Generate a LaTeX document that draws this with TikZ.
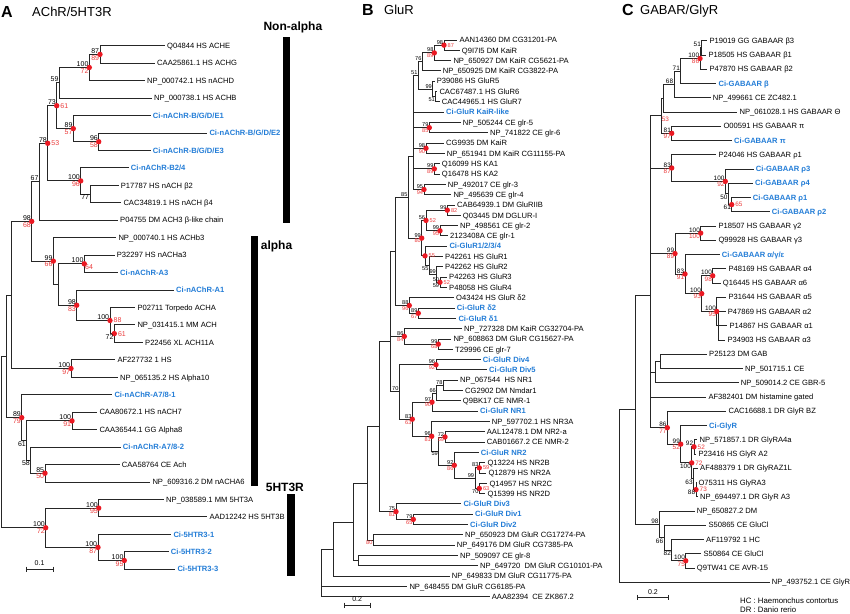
\documentclass[tikz,border=0pt]{standalone}
\usepackage{fontspec}
\setmainfont{Liberation Sans}
\definecolor{ciblue}{RGB}{35,125,215}
\definecolor{supred}{RGB}{235,60,60}
\definecolor{dotred}{RGB}{235,25,35}
\newcommand\lfsz{\fontsize{7.6}{8}\selectfont}
\newcommand\nsz{\fontsize{7}{7}\selectfont}
\tikzset{
 br/.style={draw=black!85, line width=0.85pt},
 lv/.style={anchor=west, inner sep=0pt, font=\lfsz, text height=5.5pt, text depth=0pt},
 cv/.style={lv, font=\lfsz\bfseries, text=ciblue},
 ul/.style={anchor=south east, inner sep=0.7pt, font=\nsz},
 ll/.style={anchor=north east, inner sep=0.7pt, font=\nsz},
 rll/.style={ll, text=supred},
 rr/.style={anchor=west, inner sep=0pt, xshift=3.5pt, font=\nsz, text=supred},
 rlr/.style={anchor=north west, inner sep=0.7pt, font=\nsz, text=supred},
 grp/.style={font=\fontsize{12}{12}\selectfont\bfseries, anchor=west, inner sep=0pt},
 ttl/.style={font=\fontsize{16}{16}\selectfont\bfseries, anchor=west, inner sep=0pt},
 ttt/.style={font=\fontsize{13}{13}\selectfont, anchor=west, inner sep=0pt},
 sclab/.style={font=\nsz, anchor=south, inner sep=1pt},
}
\newcommand\TLeaf[4]{\coordinate (#1) at ({#2-2},#3); \node[lv] (#1t) at (#2,#3) {#4};}
\newcommand\TCi[4]{\coordinate (#1) at ({#2-2},#3); \node[cv] (#1t) at (#2,#3) {#4};}
\newcommand\Kids[2]{\draw[br] foreach \c in {#2} {(#1) |- (\c)};}
\newcommand\RDot[1]{\fill[dotred] (#1) circle (2.7pt);}
\newcommand\NUp[2]{\node[ul] (#1u) at (#1) {#2};}
\newcommand\NLo[2]{\node[ll] (#1l) at (#1) {#2};}
\newcommand\RLo[2]{\node[rll] (#1r) at (#1) {#2};}
\newcommand\RRi[2]{\node[rr] (#1r) at (#1) {#2};}
\newcommand\RBr[2]{\node[rlr] (#1r) at (#1) {#2};}
\newcommand\ND[3]{\RDot{#1}\NUp{#1}{#2}\RLo{#1}{#3}}
\begin{document}
\begin{tikzpicture}[x=1pt,y=-1pt]
\fill[white] (0,0) rectangle (850,613);
\useasboundingbox (0,0) rectangle (850,613);

% ================= PANEL A =================
\renewcommand\nsz{\fontsize{7}{7}\selectfont}
\node[ttl] (tA) at (1,12) {A};
\node[ttt] (tA2) at (32,12) {AChR/5HT3R};

\TLeaf{aL1}{167}{45.7}{Q04844 HS ACHE}
\TLeaf{aL2}{157}{63.15}{CAA25861.1 HS ACHG}
\TLeaf{aL3}{147}{80.6}{NP\_000742.1 HS nACHD}
\TLeaf{aL4}{154}{98.05}{NP\_000738.1 HS ACHB}
\TCi{aL5}{152.7}{115.5}{Ci-nAChR-B/G/D/E1}
\TCi{aL6}{209.3}{132.95}{Ci-nAChR-B/G/D/E2}
\TCi{aL7}{152.7}{150.4}{Ci-nAChR-B/G/D/E3}
\TCi{aL8}{130.7}{167.85}{Ci-nAChR-B2/4}
\TLeaf{aL9}{120.7}{185.3}{P17787 HS nACH β2}
\TLeaf{aL10}{123.3}{202.75}{CAC34819.1 HS nACH β4}
\TLeaf{aL11}{120}{220.2}{P04755 DM ACH3 β-like chain}
\TLeaf{aL12}{118.3}{237.65}{NP\_000740.1 HS ACHb3}
\TLeaf{aL13}{116.7}{255.1}{P32297 HS nACHa3}
\TCi{aL14}{120}{272.55}{Ci-nAChR-A3}
\TCi{aL15}{176}{290}{Ci-nAChR-A1}
\TLeaf{aL16}{137.3}{307.45}{P02711 Torpedo ACHA}
\TLeaf{aL17}{137.3}{324.9}{NP\_031415.1 MM ACH}
\TLeaf{aL18}{145}{342.35}{P22456 XL ACH11A}
\TLeaf{aL19}{117.3}{359.8}{AF227732 1 HS}
\TLeaf{aL20}{120}{377.25}{NP\_065135.2 HS Alpha10}
\TCi{aL21}{114.3}{394.7}{Ci-nAChR-A7/8-1}
\TLeaf{aL22}{99.3}{412.15}{CAA80672.1 HS nACH7}
\TLeaf{aL23}{99.3}{429.6}{CAA36544.1 GG Alpha8}
\TCi{aL24}{122.7}{447.05}{Ci-nAChR-A7/8-2}
\TLeaf{aL25}{121.7}{464.5}{CAA58764 CE Ach}
\TLeaf{aL26}{152.3}{481.95}{NP\_609316.2 DM nACHA6}
\TLeaf{aL27}{166}{499.4}{NP\_038589.1 MM 5HT3A}
\TLeaf{aL28}{209.3}{516.85}{AAD12242 HS 5HT3B}
\TCi{aL29}{173.3}{534.3}{Ci-5HTR3-1}
\TCi{aL30}{170.7}{551.75}{Ci-5HTR3-2}
\TCi{aL31}{177.3}{569.2}{Ci-5HTR3-3}

\coordinate (a1) at (100,54.4);
\coordinate (a2) at (89.3,67.5);
\coordinate (a3) at (59.3,82.8);
\coordinate (a5) at (98.7,141.7);
\coordinate (a4) at (73.3,128.6);
\coordinate (a6) at (56.7,105.7);
\coordinate (a8) at (90,194);
\coordinate (a7) at (80.7,180.9);
\coordinate (a9) at (47.7,143.3);
\coordinate (a10) at (39.3,181.75);
\coordinate (a12) at (84.3,263.8);
\coordinate (a15) at (114.3,333.6);
\coordinate (a14) at (110,320.5);
\coordinate (a13) at (76.7,305.25);
\coordinate (aX) at (58.3,284.5);
\coordinate (a11) at (53.3,261.1);
\coordinate (a16) at (31.7,221.4);
\coordinate (a17) at (71,368.5);
\coordinate (aY) at (11.7,295);
\coordinate (a19) at (72,420.9);
\coordinate (a22) at (45,473.2);
\coordinate (a21) at (30.7,460.1);
\coordinate (a20) at (26.7,440.5);
\coordinate (a18) at (21.7,417.6);
\coordinate (aZ) at (6.7,356.3);
\coordinate (a24) at (98.7,508.1);
\coordinate (a26) at (124.3,560.5);
\coordinate (a25) at (98,547.4);
\coordinate (a23) at (45.7,527.75);
\coordinate (aR) at (1.7,442);

\Kids{a1}{aL1,aL2}
\Kids{a2}{a1,aL3}
\Kids{a3}{a2,aL4}
\Kids{a5}{aL6,aL7}
\Kids{a4}{aL5,a5}
\Kids{a6}{a3,a4}
\Kids{a8}{aL9,aL10}
\Kids{a7}{aL8,a8}
\Kids{a9}{a6,a7}
\Kids{a10}{a9,aL11}
\Kids{a12}{aL13,aL14}
\Kids{a15}{aL17,aL18}
\Kids{a14}{aL16,a15}
\Kids{a13}{aL15,a14}
\Kids{aX}{a12,a13}
\Kids{a11}{aL12,aX}
\Kids{a16}{a10,a11}
\Kids{a17}{aL19,aL20}
\Kids{aY}{a16,a17}
\Kids{a19}{aL22,aL23}
\Kids{a22}{aL25,aL26}
\Kids{a21}{aL24,a22}
\Kids{a20}{a19,a21}
\Kids{a18}{aL21,a20}
\Kids{aZ}{aY,a18}
\Kids{a24}{aL27,aL28}
\Kids{a26}{aL30,aL31}
\Kids{a25}{aL29,a26}
\Kids{a23}{a24,a25}
\Kids{aR}{aZ,a23}

\ND{a1}{87}{89}
\ND{a2}{100}{72}
\NUp{a3}{59}
\ND{a5}{96}{58}
\ND{a4}{89}{57}
\RDot{a6}\NUp{a6}{73}\RRi{a6}{61}
\NLo{a8}{77}
\ND{a7}{100}{96}
\RDot{a9}\NUp{a9}{78}\RRi{a9}{53}
\NUp{a10}{67}
\RDot{a12}\NUp{a12}{100}\RBr{a12}{64}
\RDot{a15}\RRi{a15}{61}\NLo{a15}{72}
\RDot{a14}\NUp{a14}{100}\RRi{a14}{88}
\ND{a13}{98}{83}
\ND{a11}{99}{66}
\ND{a16}{98}{68}
\ND{a17}{100}{97}
\ND{a19}{100}{91}
\ND{a22}{85}{50}
\NLo{a21}{58}
\NLo{a20}{61}
\ND{a18}{89}{79}
\ND{a24}{100}{95}
\ND{a26}{100}{95}
\ND{a25}{100}{87}
\ND{a23}{100}{72}

\fill (283,37) rectangle (290,223);
\fill (250.7,236) rectangle (258.3,485.7);
\fill (286.7,494.3) rectangle (295,575.7);
\node[grp] (gNA) at (263.3,27.3) {Non-alpha};
\node[grp] (gAl) at (260.7,246.7) {alpha};
\node[grp] (g5H) at (265.7,487) {5HT3R};

\coordinate (sA1) at (26,569.2);
\coordinate (sA2) at (53.3,569.2);
\draw[br] (sA1) -- (sA2);
\draw[br] (sA1) ++(0,-2.5) -- ++(0,5);
\draw[br] (sA2) ++(0,-2.5) -- ++(0,5);
\node[sclab] (sAl) at (39.6,567) {0.1};

% ================= PANEL B =================
\renewcommand\nsz{\fontsize{5.6}{5.6}\selectfont}
\node[ttl] (tB) at (362,10) {B};
\node[ttt] (tB2) at (384,10) {GluR};

\TLeaf{b1}{459.3}{40.0}{AAN14360 DM CG31201-PA}
\TLeaf{b2}{461.7}{50.3}{Q9I7I5 DM KaiR}
\TLeaf{b3}{453.3}{60.6}{NP\_650927 DM KaiR CG5621-PA}
\TLeaf{b4}{442.7}{70.9}{NP\_650925 DM KaiR CG3822-PA}
\TLeaf{b5}{436.7}{81.2}{P39086 HS GluR5}
\TLeaf{b6}{439.3}{91.6}{CAC67487.1 HS GluR6}
\TLeaf{b7}{441.7}{101.9}{CAC44965.1 HS GluR7}
\TCi{b8}{446}{112.2}{Ci-GluR KaiR-like}
\TLeaf{b9}{462.7}{122.5}{NP\_505244 CE glr-5}
\TLeaf{b10}{490}{132.8}{NP\_741822 CE glr-6}
\TLeaf{b11}{446}{143.1}{CG9935 DM KaiR}
\TLeaf{b12}{446.7}{153.4}{NP\_651941 DM KaiR CG11155-PA}
\TLeaf{b13}{441.7}{163.7}{Q16099 HS KA1}
\TLeaf{b14}{441.7}{174.0}{Q16478 HS KA2}
\TLeaf{b15}{447.7}{184.3}{NP\_492017 CE glr-3}
\TLeaf{b16}{453.3}{194.7}{NP\_495639 CE glr-4}
\TLeaf{b17}{457}{205.0}{CAB64939.1 DM GluRIIB}
\TLeaf{b18}{462.7}{215.3}{Q03445 DM DGLUR-I}
\TLeaf{b19}{460}{225.6}{NP\_498561 CE glr-2}
\TLeaf{b20}{450}{235.9}{2123408A CE glr-1}
\TCi{b21}{449.3}{246.2}{Ci-GluR1/2/3/4}
\TLeaf{b22}{445}{256.5}{P42261 HS GluR1}
\TLeaf{b23}{445}{266.8}{P42262 HS GluR2}
\TLeaf{b24}{449}{277.1}{P42263 HS GluR3}
\TLeaf{b25}{449}{287.4}{P48058 HS GluR4}
\TLeaf{b26}{456}{297.8}{O43424 HS GluR δ2}
\TCi{b27}{456.7}{308.1}{Ci-GluR δ2}
\TCi{b28}{458.3}{318.4}{Ci-GluR δ1}
\TLeaf{b29}{464}{328.7}{NP\_727328 DM KaiR CG32704-PA}
\TLeaf{b30}{453.3}{339.0}{NP\_608863 DM GluR CG15627-PA}
\TLeaf{b31}{455}{349.3}{T29996 CE glr-7}
\TCi{b32}{482.7}{359.6}{Ci-GluR Div4}
\TCi{b33}{489}{369.9}{Ci-GluR Div5}
\TLeaf{b34}{460}{380.2}{NP\_067544\ \ HS NR1}
\TLeaf{b35}{465}{390.5}{CG2902 DM Nmdar1}
\TLeaf{b36}{462.7}{400.8}{Q9BK17 CE NMR-1}
\TCi{b37}{480}{411.2}{Ci-GluR NR1}
\TLeaf{b38}{491.7}{421.5}{NP\_597702.1 HS NR3A}
\TLeaf{b39}{486.7}{431.8}{AAL12478.1 DM NR2-a}
\TLeaf{b40}{486.7}{442.1}{CAB01667.2 CE NMR-2}
\TCi{b41}{480.7}{452.4}{Ci-GluR NR2}
\TLeaf{b42}{487.3}{462.7}{Q13224 HS NR2B}
\TLeaf{b43}{488.3}{473.0}{Q12879 HS NR2A}
\TLeaf{b44}{489.3}{483.3}{Q14957 HS NR2C}
\TLeaf{b45}{487.3}{493.6}{Q15399 HS NR2D}
\TCi{b46}{463.3}{503.9}{Ci-GluR Div3}
\TCi{b47}{475}{514.2}{Ci-GluR Div1}
\TCi{b48}{470}{524.6}{Ci-GluR Div2}
\TLeaf{b49}{465}{534.9}{NP\_650923 DM GluR CG17274-PA}
\TLeaf{b50}{456.7}{545.2}{NP\_649176 DM GluR CG7385-PA}
\TLeaf{b51}{460}{555.5}{NP\_509097 CE glr-8}
\TLeaf{b52}{480}{565.8}{NP\_649720\ \ DM GluR CG10101-PA}
\TLeaf{b53}{451.7}{576.1}{NP\_649833 DM GluR CG11775-PA}
\TLeaf{b54}{409.3}{586.4}{NP\_648455 DM GluR CG6185-PA}
\TLeaf{b55}{491.7}{596.7}{AAA82394\ \ CE ZK867.2}

\coordinate (bn1) at (444,45.15);
\coordinate (bn2) at (434.3,52.9);
\coordinate (bn3) at (422.3,61.9);
\coordinate (bn5) at (435.7,96.75);
\coordinate (bn4) at (432.7,89);
\coordinate (bn6) at (418.3,75.45);
\coordinate (bn7) at (429.3,127.65);
\coordinate (bn8) at (426,148.25);
\coordinate (bn9) at (434.3,168.85);
\coordinate (bn10) at (424,189.5);
\coordinate (bS1) at (413.3,156);
\coordinate (bn14) at (447.3,210.15);
\coordinate (bn15) at (440,230.75);
\coordinate (bn13) at (426,220.45);
\coordinate (bn19) at (440,282.25);
\coordinate (bn18) at (436.7,274.5);
\coordinate (bn17) at (429.3,265.5);
\coordinate (bn16) at (425,255.85);
\coordinate (bn11) at (421.7,238.15);
\coordinate (bn12) at (408.3,197);
\coordinate (bn21) at (418.3,313.25);
\coordinate (bn20) at (409.3,305.5);
\coordinate (bn23) at (438.3,344.15);
\coordinate (bn22) at (404.3,336.4);
\coordinate (bP1) at (395,251.25);
\coordinate (bn24) at (436,364.75);
\coordinate (bn28) at (443.3,385.35);
\coordinate (bn27) at (436.7,393.1);
\coordinate (bn26) at (432,402.15);
\coordinate (bn31) at (445,436.95);
\coordinate (bn33) at (479.3,467.85);
\coordinate (bn34) at (479.3,488.45);
\coordinate (bn35) at (475,478.15);
\coordinate (bn32) at (454.3,465.3);
\coordinate (bn30) at (438.7,451.1);
\coordinate (bn29) at (431.7,436.3);
\coordinate (bn25) at (412.3,419.2);
\coordinate (bn70) at (399.3,391.6);
\coordinate (bQ) at (390,341.7);
\coordinate (bn37) at (413.3,519.4);
\coordinate (bn36) at (396,511.65);
\coordinate (bP4) at (379.3,426.7);
\coordinate (bn38) at (373.3,540);
\coordinate (bP5) at (367.7,483.35);
\coordinate (bn39) at (358.3,560.65);
\coordinate (bP6) at (353.3,522);
\coordinate (bP7) at (333.3,549.05);
\coordinate (bR) at (321,572.9);

\Kids{bn1}{b1,b2}
\Kids{bn2}{bn1,b3}
\Kids{bn3}{bn2,b4}
\Kids{bn5}{b6,b7}
\Kids{bn4}{b5,bn5}
\Kids{bn6}{bn3,bn4}
\Kids{bn7}{b9,b10}
\Kids{bn8}{b11,b12}
\Kids{bn9}{b13,b14}
\Kids{bn10}{b15,b16}
\Kids{bS1}{bn6,b8,bn7,bn8,bn9,bn10}
\Kids{bn14}{b17,b18}
\Kids{bn15}{b19,b20}
\Kids{bn13}{bn14,bn15}
\Kids{bn19}{b24,b25}
\Kids{bn18}{b23,bn19}
\Kids{bn17}{b22,bn18}
\Kids{bn16}{b21,bn17}
\Kids{bn11}{bn13,bn16}
\Kids{bn12}{bS1,bn11}
\Kids{bn21}{b27,b28}
\Kids{bn20}{b26,bn21}
\Kids{bn23}{b30,b31}
\Kids{bn22}{b29,bn23}
\Kids{bP1}{bn12,bn20}
\Kids{bn24}{b32,b33}
\Kids{bn28}{b34,b35}
\Kids{bn27}{bn28,b36}
\Kids{bn26}{bn27,b37}
\Kids{bn31}{b39,b40}
\Kids{bn33}{b42,b43}
\Kids{bn34}{b44,b45}
\Kids{bn35}{bn33,bn34}
\Kids{bn32}{b41,bn35}
\Kids{bn30}{bn31,bn32}
\Kids{bn29}{b38,bn30}
\Kids{bn25}{bn26,bn29}
\Kids{bn70}{bn24,bn25}
\Kids{bQ}{bP1,bn22,bn70}
\Kids{bn37}{b47,b48}
\Kids{bn36}{b46,bn37}
\Kids{bP4}{bQ,bn36}
\Kids{bn38}{b49,b50}
\Kids{bP5}{bP4,bn38}
\Kids{bn39}{b51,b52}
\Kids{bP6}{bP5,bn39}
\Kids{bP7}{bP6,b53}
\Kids{bR}{bP7,b54,b55}

\RDot{bn1}\NUp{bn1}{98}\RRi{bn1}{87}
\ND{bn2}{98}{89}
\NUp{bn3}{76}
\NLo{bn5}{51}
\NUp{bn4}{99}
\NUp{bn6}{51}
\ND{bn7}{79}{85}
\ND{bn8}{98}{90}
\ND{bn9}{99}{89}
\ND{bn10}{95}{94}
\RDot{bn14}\NUp{bn14}{99}\RRi{bn14}{82}
\ND{bn15}{99}{95}
\RDot{bn13}\NUp{bn13}{56}\RRi{bn13}{52}
\RDot{bn19}\NUp{bn19}{50}\RRi{bn19}{52}\NLo{bn19}{59}
\NUp{bn18}{99}
\NLo{bn17}{55}
\RDot{bn16}\RRi{bn16}{55}
\ND{bn11}{99}{80}
\NUp{bn12}{85}
\ND{bn21}{89}{67}
\ND{bn20}{88}{96}
\ND{bn23}{99}{68}
\ND{bn22}{86}{84}
\ND{bn24}{96}{92}
\NUp{bn28}{78}
\NUp{bn27}{66}
\ND{bn26}{97}{90}
\ND{bn31}{72}{59}
\RDot{bn33}\NUp{bn33}{83}\RRi{bn33}{59}
\RDot{bn34}\NLo{bn34}{70}\RRi{bn34}{63}
\NUp{bn35}{99}
\ND{bn32}{92}{86}
\NLo{bn30}{59}
\ND{bn29}{96}{81}
\ND{bn25}{83}{63}
\NUp{bn70}{70}
\ND{bn37}{79}{65}
\ND{bn36}{75}{81}
\RLo{bn38}{80}

\coordinate (sB1) at (344.3,605);
\coordinate (sB2) at (370,605);
\draw[br] (sB1) -- (sB2);
\draw[br] (sB1) ++(0,-2.5) -- ++(0,5);
\draw[br] (sB2) ++(0,-2.5) -- ++(0,5);
\node[sclab, font=\fontsize{7}{7}\selectfont] (sBl) at (357.2,603) {0.2};

% ================= PANEL C =================
\renewcommand\nsz{\fontsize{6.4}{6.4}\selectfont}
\node[ttl] (tC) at (622,10) {C};
\node[ttt] (tC2) at (640,11) {GABAR/GlyR};

\TLeaf{c1}{709.3}{40.7}{P19019 GG GABAAR β3}
\TLeaf{c2}{708.3}{54.95}{P18505 HS GABAAR β1}
\TLeaf{c3}{709.3}{69.2}{P47870 HS GABAAR β2}
\TCi{c4}{718.3}{83.45}{Ci-GABAAR β}
\TLeaf{c5}{712.7}{97.7}{NP\_499661 CE ZC482.1}
\TLeaf{c6}{739.3}{111.95}{NP\_061028.1 HS GABAAR Θ}
\TLeaf{c7}{723.3}{126.2}{O00591 HS GABAAR π}
\TCi{c8}{734}{140.45}{Ci-GABAAR π}
\TLeaf{c9}{718.3}{154.7}{P24046 HS GABAAR ρ1}
\TCi{c10}{755.7}{168.95}{Ci-GABAAR ρ3}
\TCi{c11}{755}{183.2}{Ci-GABAAR ρ4}
\TCi{c12}{752.7}{197.45}{Ci-GABAAR ρ1}
\TCi{c13}{771.7}{211.7}{Ci-GABAAR ρ2}
\TLeaf{c14}{718.3}{225.95}{P18507 HS GABAAR γ2}
\TLeaf{c15}{718.3}{240.2}{Q99928 HS GABAAR γ3}
\TCi{c16}{721.7}{254.45}{Ci-GABAAR α/γ/ε}
\TLeaf{c17}{728.3}{268.7}{P48169 HS GABAAR α4}
\TLeaf{c18}{722.7}{282.95}{Q16445 HS GABAAR α6}
\TLeaf{c19}{728.3}{297.2}{P31644 HS GABAAR α5}
\TLeaf{c20}{727.7}{311.45}{P47869 HS GABAAR α2}
\TLeaf{c21}{729.3}{325.7}{P14867 HS GABAAR α1}
\TLeaf{c22}{727.3}{339.95}{P34903 HS GABAAR α3}
\TLeaf{c23}{709}{354.2}{P25123 DM GAB}
\TLeaf{c24}{745}{368.45}{NP\_501715.1 CE}
\TLeaf{c25}{740.7}{382.7}{NP\_509014.2 CE GBR-5}
\TLeaf{c26}{708.3}{396.95}{AF382401 DM histamine gated}
\TLeaf{c27}{728.3}{411.2}{CAC16688.1 DR GlyR BZ}
\TCi{c28}{709}{425.45}{Ci-GlyR}
\TLeaf{c29}{699.3}{439.7}{NP\_571857.1 DR GlyRA4a}
\TLeaf{c30}{698.3}{453.95}{P23416 HS GlyR A2}
\TLeaf{c31}{700}{468.2}{AF488379 1 DR GlyRAZ1L}
\TLeaf{c32}{698.3}{482.45}{O75311 HS GlyRA3}
\TLeaf{c33}{700}{496.7}{NP\_694497.1 DR GlyR A3}
\TLeaf{c34}{696.7}{510.95}{NP\_650827.2 DM}
\TLeaf{c35}{708.3}{525.2}{S50865 CE GluCl}
\TLeaf{c36}{706}{539.45}{AF119792 1 HC}
\TLeaf{c37}{703.3}{553.7}{S50864 CE GluCl}
\TLeaf{c38}{696.7}{567.95}{Q9TW41 CE AVR-15}
\TLeaf{c39}{771.7}{582.2}{NP\_493752.1 CE GlyR}

\coordinate (cn1) at (701.7,47.8);
\coordinate (cn2) at (700,58.5);
\coordinate (cn3) at (680.7,71);
\coordinate (cn4) at (674,84.35);
\coordinate (cn5) at (663.3,98.15);
\coordinate (cn6) at (671.7,133.3);
\coordinate (cn7) at (661,115.7);
\coordinate (cn11) at (731.7,204.6);
\coordinate (cn10) at (728.3,193.9);
\coordinate (cn9) at (725.3,181.4);
\coordinate (cn8) at (671.7,168);
\coordinate (cn13) at (700.7,233.1);
\coordinate (cn16) at (712.7,275.8);
\coordinate (cn18) at (718.3,325.7);
\coordinate (cn17) at (716.7,311.45);
\coordinate (cn15) at (701.7,293.6);
\coordinate (cn14) at (685,274);
\coordinate (cn12) at (675,253.55);
\coordinate (cn19) at (660,361.3);
\coordinate (cn20) at (655,372);
\coordinate (cn23) at (694,446.8);
\coordinate (cn25) at (696,489.6);
\coordinate (cn26) at (693.5,478.9);
\coordinate (cn24) at (691.7,462.85);
\coordinate (cn22) at (680.7,444.15);
\coordinate (cn21) at (667.3,427.7);
\coordinate (cC) at (650,295);
\coordinate (cn30) at (685.7,560.8);
\coordinate (cn29) at (671.7,550.1);
\coordinate (cn28) at (664,537.65);
\coordinate (cn27) at (659.3,524.3);
\coordinate (cG) at (635.7,409.65);
\coordinate (cR) at (619.3,495.9);

\Kids{cn1}{c1,c2}
\Kids{cn2}{cn1,c3}
\Kids{cn3}{cn2,c4}
\Kids{cn4}{cn3,c5}
\Kids{cn5}{cn4,c6}
\Kids{cn6}{c7,c8}
\Kids{cn7}{cn5,cn6}
\Kids{cn11}{c12,c13}
\Kids{cn10}{c11,cn11}
\Kids{cn9}{c10,cn10}
\Kids{cn8}{c9,cn9}
\Kids{cn13}{c14,c15}
\Kids{cn16}{c17,c18}
\Kids{cn18}{c20,c21,c22}
\Kids{cn17}{c19,cn18}
\Kids{cn15}{cn16,cn17}
\Kids{cn14}{c16,cn15}
\Kids{cn12}{cn13,cn14}
\Kids{cn19}{c23,c24}
\Kids{cn20}{cn19,c25}
\Kids{cn23}{c29,c30}
\Kids{cn25}{c32,c33}
\Kids{cn26}{c31,cn25}
\Kids{cn24}{cn23,cn26}
\Kids{cn22}{c28,cn24}
\Kids{cn21}{c27,cn22}
\Kids{cC}{cn7,cn8,cn12,cn20,c26,cn21}
\Kids{cn30}{c37,c38}
\Kids{cn29}{c36,cn30}
\Kids{cn28}{c35,cn29}
\Kids{cn27}{c34,cn28}
\Kids{cG}{cC,cn27}
\Kids{cR}{cG,c39}

\NUp{cn1}{51}
\ND{cn2}{100}{86}
\NUp{cn3}{71}
\NUp{cn4}{68}
\RBr{cn7}{53}
\ND{cn6}{81}{97}
\RDot{cn11}\RRi{cn11}{65}\NLo{cn11}{61}
\NLo{cn10}{50}
\ND{cn9}{100}{92}
\ND{cn8}{83}{87}
\ND{cn13}{100}{100}
\ND{cn16}{100}{98}
\ND{cn17}{100}{95}
\ND{cn15}{100}{93}
\ND{cn14}{83}{91}
\ND{cn12}{99}{89}
\RDot{cn23}\NUp{cn23}{92}\RRi{cn23}{52}
\RDot{cn25}\RRi{cn25}{73}\NLo{cn25}{88}
\NLo{cn26}{63}
\RDot{cn24}\NLo{cn24}{100}\RRi{cn24}{72}
\ND{cn22}{99}{52}
\ND{cn21}{86}{77}
\ND{cn30}{100}{75}
\NLo{cn29}{82}
\NLo{cn28}{66}
\NUp{cn27}{98}

\coordinate (sC1) at (637.7,597.3);
\coordinate (sC2) at (668.3,597.3);
\draw[br] (sC1) -- (sC2);
\draw[br] (sC1) ++(0,-2.5) -- ++(0,5);
\draw[br] (sC2) ++(0,-2.5) -- ++(0,5);
\node[sclab, font=\fontsize{7}{7}\selectfont] (sCl) at (653,595.3) {0.2};

\node[lv, font=\fontsize{7.8}{8}\selectfont] (lg1) at (740,601) {HC : Haemonchus contortus};
\node[lv, font=\fontsize{7.8}{8}\selectfont] (lg2) at (740,609.5) {DR : Danio rerio};
\end{tikzpicture}
\end{document}
